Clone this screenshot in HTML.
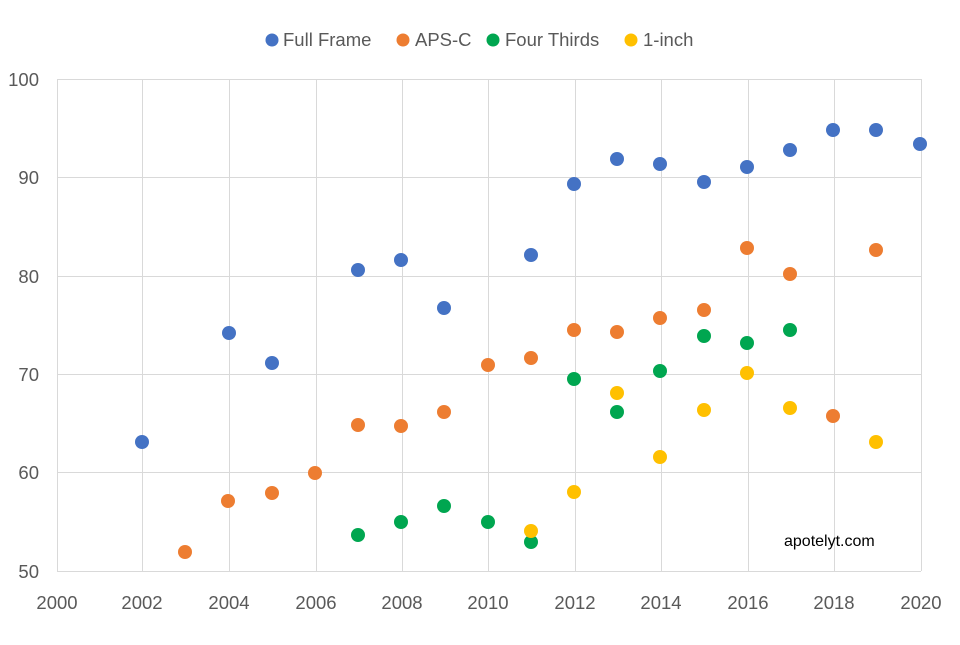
<!DOCTYPE html>
<html><head><meta charset="utf-8"><style>
html,body{margin:0;padding:0;background:#fff;}
text{font-family:"Liberation Sans",Arial,sans-serif;}
</style></head><body>
<svg width="960" height="640" viewBox="0 0 960 640" xmlns="http://www.w3.org/2000/svg">
<rect width="960" height="640" fill="#fff"/>
<g stroke="#d9d9d9" stroke-width="1">
<line x1="57" y1="79.5" x2="921" y2="79.5"/>
<line x1="57" y1="177.5" x2="921" y2="177.5"/>
<line x1="57" y1="276.5" x2="921" y2="276.5"/>
<line x1="57" y1="374.5" x2="921" y2="374.5"/>
<line x1="57" y1="472.5" x2="921" y2="472.5"/>
<line x1="57" y1="571.5" x2="921" y2="571.5"/>
<line x1="57.5" y1="79" x2="57.5" y2="571"/>
<line x1="142.5" y1="79" x2="142.5" y2="571"/>
<line x1="229.5" y1="79" x2="229.5" y2="571"/>
<line x1="316.5" y1="79" x2="316.5" y2="571"/>
<line x1="402.5" y1="79" x2="402.5" y2="571"/>
<line x1="488.5" y1="79" x2="488.5" y2="571"/>
<line x1="575.5" y1="79" x2="575.5" y2="571"/>
<line x1="661.5" y1="79" x2="661.5" y2="571"/>
<line x1="748.5" y1="79" x2="748.5" y2="571"/>
<line x1="834.5" y1="79" x2="834.5" y2="571"/>
<line x1="921.5" y1="79" x2="921.5" y2="571"/>
</g>
<g fill="#595959" font-size="18.5" text-anchor="end">
<text x="39" y="86">100</text><text x="39" y="184">90</text><text x="39" y="283">80</text>
<text x="39" y="381">70</text><text x="39" y="479">60</text><text x="39" y="578">50</text>
</g>
<g fill="#595959" font-size="18.5" text-anchor="middle">
<text x="57" y="609">2000</text><text x="142" y="609">2002</text><text x="229" y="609">2004</text>
<text x="316" y="609">2006</text><text x="402" y="609">2008</text><text x="488" y="609">2010</text>
<text x="575" y="609">2012</text><text x="661" y="609">2014</text><text x="748" y="609">2016</text>
<text x="834" y="609">2018</text><text x="921" y="609">2020</text>
</g>
<g fill="#595959" font-size="18.5">
<circle cx="272" cy="40" r="6.5" fill="#4472C4"/><text x="283" y="46">Full Frame</text>
<circle cx="403" cy="40" r="6.5" fill="#ED7D31"/><text x="415" y="46">APS-C</text>
<circle cx="493" cy="40" r="6.5" fill="#00A650"/><text x="505" y="46">Four Thirds</text>
<circle cx="631" cy="40" r="6.5" fill="#FFC000"/><text x="643" y="46">1-inch</text>
</g>
<g fill="#4472C4">
<circle cx="142" cy="442" r="7"/><circle cx="229" cy="333" r="7"/><circle cx="272" cy="363" r="7"/>
<circle cx="358" cy="270" r="7"/><circle cx="401" cy="260" r="7"/><circle cx="444" cy="308" r="7"/>
<circle cx="531" cy="255" r="7"/><circle cx="574" cy="184" r="7"/><circle cx="617" cy="159" r="7"/>
<circle cx="660" cy="164" r="7"/><circle cx="704" cy="182" r="7"/><circle cx="747" cy="167" r="7"/>
<circle cx="790" cy="150" r="7"/><circle cx="833" cy="130" r="7"/><circle cx="876" cy="130" r="7"/>
<circle cx="920" cy="144" r="7"/>
</g>
<g fill="#ED7D31">
<circle cx="185" cy="552" r="7"/><circle cx="228" cy="501" r="7"/><circle cx="272" cy="493" r="7"/>
<circle cx="315" cy="473" r="7"/><circle cx="358" cy="425" r="7"/><circle cx="401" cy="426" r="7"/>
<circle cx="444" cy="412" r="7"/><circle cx="488" cy="365" r="7"/><circle cx="531" cy="358" r="7"/>
<circle cx="574" cy="330" r="7"/><circle cx="617" cy="332" r="7"/><circle cx="660" cy="318" r="7"/>
<circle cx="704" cy="310" r="7"/><circle cx="747" cy="248" r="7"/><circle cx="790" cy="274" r="7"/>
<circle cx="833" cy="416" r="7"/><circle cx="876" cy="250" r="7"/>
</g>
<g fill="#00A650">
<circle cx="358" cy="535" r="7"/><circle cx="401" cy="522" r="7"/><circle cx="444" cy="506" r="7"/>
<circle cx="488" cy="522" r="7"/><circle cx="531" cy="542" r="7"/><circle cx="574" cy="379" r="7"/>
<circle cx="617" cy="412" r="7"/><circle cx="660" cy="371" r="7"/><circle cx="704" cy="336" r="7"/>
<circle cx="747" cy="343" r="7"/><circle cx="790" cy="330" r="7"/>
</g>
<g fill="#FFC000">
<circle cx="531" cy="531" r="7"/><circle cx="574" cy="492" r="7"/><circle cx="617" cy="393" r="7"/>
<circle cx="660" cy="457" r="7"/><circle cx="704" cy="410" r="7"/><circle cx="747" cy="373" r="7"/>
<circle cx="790" cy="408" r="7"/><circle cx="876" cy="442" r="7"/>
</g>
<text x="784" y="546" font-size="16" fill="#000">apotelyt.com</text>
</svg>
</body></html>
